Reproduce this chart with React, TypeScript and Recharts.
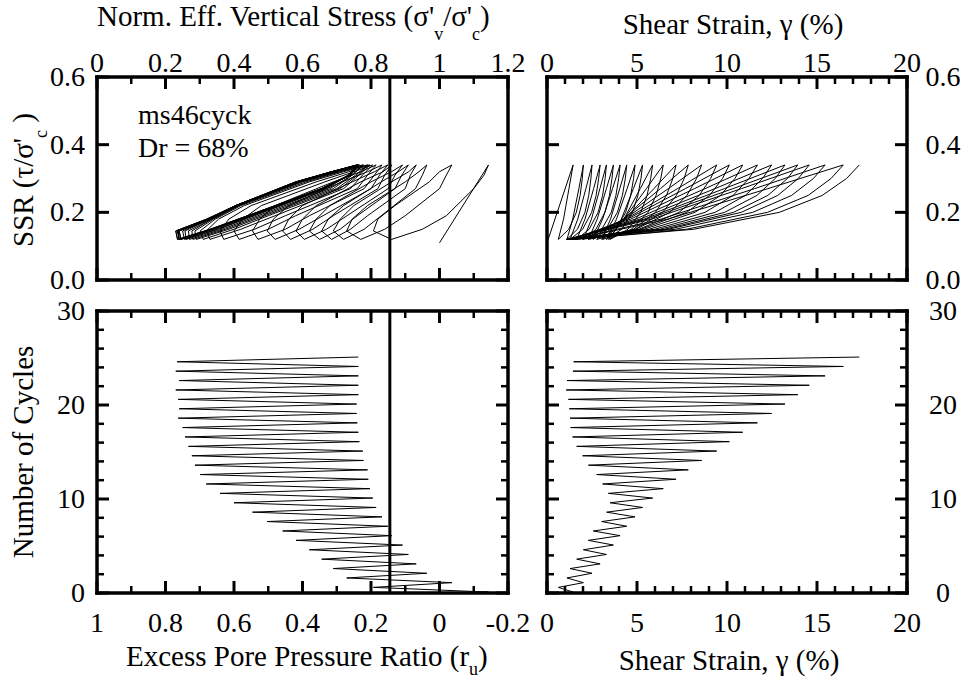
import { ReferenceLine, Scatter, ScatterChart, XAxis, YAxis } from "recharts";

const FONT = '"Liberation Serif", "Times New Roman", serif';

// half-cycle counters (peak of SSR, then trough of SSR)
const peakCycle = [0.1, 1.1, 2.1, 3.1, 4.1, 5.1, 6.1, 7.1, 8.1, 9.1, 10.1, 11.1, 12.1, 13.1, 14.1, 15.1, 16.1, 17.1, 18.1, 19.1, 20.1, 21.1, 22.1, 23.1, 24.1, 25.1];
const troughCycle = [0.6, 1.6, 2.6, 3.6, 4.6, 5.6, 6.6, 7.6, 8.6, 9.6, 10.6, 11.6, 12.6, 13.6, 14.6, 15.6, 16.6, 17.6, 18.6, 19.6, 20.6, 21.6, 22.6, 23.6, 24.6];

// excess pore pressure ratio at SSR peaks / troughs
const peakRu = [-0.143, -0.036, 0.037, 0.068, 0.091, 0.108, 0.139, 0.151, 0.168, 0.185, 0.195, 0.203, 0.208, 0.21, 0.222, 0.224, 0.234, 0.237, 0.24, 0.242, 0.242, 0.237, 0.237, 0.237, 0.237, 0.237];
const troughRu = [0.193, 0.271, 0.31, 0.344, 0.38, 0.419, 0.458, 0.503, 0.546, 0.6, 0.641, 0.681, 0.699, 0.714, 0.723, 0.733, 0.743, 0.75, 0.763, 0.76, 0.763, 0.77, 0.76, 0.77, 0.766];

// shear strain (%) at SSR peaks / troughs
const peakStrain = [1.45, 2.02, 2.5, 2.95, 3.3, 3.69, 4.06, 4.43, 4.89, 5.31, 5.87, 6.46, 7.17, 7.85, 8.59, 9.43, 10.13, 10.87, 11.69, 12.48, 13.22, 13.93, 14.57, 15.45, 16.46, 17.35];
const troughStrain = [0.63, 1.11, 1.28, 1.65, 2.02, 2.3, 2.57, 3.04, 3.31, 3.5, 3.41, 3.09, 2.76, 2.3, 1.98, 1.65, 1.42, 1.31, 1.28, 1.24, 1.19, 1.07, 1.11, 1.44, 1.48];

// stress path: normalised vertical stress along each loop (unloading, then reloading)
const tlUnload31 = [1.13, 1.02, 0.95, 0.915, 0.89, 0.87, 0.84, 0.825, 0.81, 0.79, 0.775, 0.765, 0.76, 0.755, 0.745, 0.745, 0.735, 0.735, 0.735, 0.735, 0.735, 0.74, 0.74, 0.74, 0.74];
const tlUnload27 = [1.1, 1.0, 0.93, 0.9, 0.87, 0.85, 0.82, 0.8, 0.78, 0.76, 0.74, 0.72, 0.71, 0.7, 0.69, 0.68, 0.67, 0.665, 0.66, 0.66, 0.655, 0.655, 0.66, 0.655, 0.655];
const tlUnload19 = [1.02, 0.9, 0.83, 0.79, 0.76, 0.73, 0.69, 0.66, 0.62, 0.58, 0.55, 0.52, 0.5, 0.49, 0.48, 0.47, 0.46, 0.455, 0.45, 0.45, 0.445, 0.44, 0.445, 0.44, 0.44];
const tlUnload15 = [0.95, 0.84, 0.78, 0.74, 0.71, 0.67, 0.63, 0.59, 0.55, 0.5, 0.46, 0.42, 0.4, 0.385, 0.375, 0.365, 0.355, 0.35, 0.34, 0.34, 0.335, 0.33, 0.34, 0.33, 0.335];
const tlBottom = [0.86, 0.77, 0.72, 0.685, 0.65, 0.605, 0.565, 0.52, 0.47, 0.415, 0.37, 0.33, 0.31, 0.29, 0.28, 0.27, 0.26, 0.255, 0.24, 0.245, 0.24, 0.235, 0.245, 0.235, 0.24];
const tlLoad18 = [0.82, 0.745, 0.71, 0.675, 0.64, 0.6, 0.56, 0.515, 0.475, 0.425, 0.385, 0.355, 0.345, 0.34, 0.335, 0.335, 0.33, 0.33, 0.325, 0.33, 0.325, 0.32, 0.33, 0.32, 0.325];
const tlLoad22 = [0.87, 0.79, 0.75, 0.72, 0.68, 0.64, 0.6, 0.56, 0.52, 0.48, 0.45, 0.43, 0.42, 0.415, 0.41, 0.41, 0.41, 0.41, 0.405, 0.41, 0.405, 0.405, 0.41, 0.405, 0.405];
const tlLoad29 = [0.97, 0.9, 0.86, 0.83, 0.8, 0.77, 0.745, 0.715, 0.69, 0.665, 0.64, 0.62, 0.61, 0.6, 0.595, 0.59, 0.59, 0.585, 0.585, 0.585, 0.585, 0.58, 0.585, 0.58, 0.58];
const tlLoad32 = [1.0, 0.94, 0.91, 0.88, 0.86, 0.835, 0.81, 0.79, 0.77, 0.75, 0.735, 0.72, 0.71, 0.705, 0.7, 0.695, 0.69, 0.69, 0.685, 0.685, 0.685, 0.685, 0.685, 0.685, 0.685];

// stress-strain loops: strain along each loop (unloading, then reloading)
const trUnload27 = [1.22, 1.77, 2.16, 2.59, 2.94, 3.3, 3.64, 4.04, 4.45, 4.8, 5.18, 5.52, 5.94, 6.3, 6.74, 7.25, 7.69, 8.19, 8.78, 9.33, 9.85, 10.33, 10.8, 11.53, 12.27];
const trUnload18 = [0.92, 1.43, 1.71, 2.11, 2.47, 2.79, 3.09, 3.53, 3.86, 4.13, 4.27, 4.27, 4.3, 4.24, 4.29, 4.37, 4.47, 4.65, 4.92, 5.17, 5.4, 5.57, 5.82, 6.34, 6.72];
const trLoad15 = [1.21, 1.69, 1.98, 2.34, 2.72, 3.04, 3.35, 3.82, 4.15, 4.5, 4.69, 4.8, 4.9, 4.94, 5.11, 5.21, 5.39, 5.67, 5.98, 6.27, 6.54, 6.74, 7.13, 7.75, 8.15];
const trLoad20 = [1.63, 2.11, 2.48, 2.84, 3.22, 3.57, 3.91, 4.37, 4.75, 5.21, 5.61, 6.03, 6.42, 6.83, 7.34, 7.76, 8.22, 8.78, 9.34, 9.87, 10.36, 10.79, 11.43, 12.25, 12.91];
const trLoad25 = [1.84, 2.32, 2.73, 3.09, 3.47, 3.83, 4.19, 4.65, 5.05, 5.56, 6.06, 6.64, 7.19, 7.77, 8.46, 9.03, 9.64, 10.34, 11.02, 11.66, 12.27, 12.82, 13.59, 14.51, 15.29];
const trLoad30 = [1.96, 2.44, 2.87, 3.23, 3.61, 3.98, 4.35, 4.81, 5.22, 5.76, 6.32, 6.99, 7.62, 8.31, 9.09, 9.75, 10.44, 11.22, 11.98, 12.68, 13.36, 13.96, 14.8, 15.78, 16.64];

const startRu = 0;
const startCycle = 0;
const startStrain = 0;
const startSsr = 0.11;
const ssrPeak = 0.34;
const ssrTrough = 0.12;
const ssrTurn = 0.145;
const markerStress = 0.855;

// ticks
const stressTicks = [0, 0.1, 0.2, 0.3, 0.4, 0.5, 0.6, 0.7, 0.8, 0.9, 1, 1.1, 1.2];
const stressMajor = [0, 0.2, 0.4, 0.6, 0.8, 1, 1.2];
const ruTicks = [-0.2, -0.1, 0, 0.1, 0.2, 0.3, 0.4, 0.5, 0.6, 0.7, 0.8, 0.9, 1];
const ruMajor = [-0.2, 0, 0.2, 0.4, 0.6, 0.8, 1];
const ssrTicks = [0, 0.2, 0.4, 0.6];
const cycleTicks = [0, 2, 4, 6, 8, 10, 12, 14, 16, 18, 20, 22, 24, 26, 28, 30];
const cycleMajor = [0, 10, 20, 30];
const strainTicks = [0, 1, 2, 3, 4, 5, 6, 7, 8, 9, 10, 11, 12, 13, 14, 15, 16, 17, 18, 19, 20];
const strainMajor = [0, 5, 10, 15, 20];

type Pt = { x: number; y: number };

const ruPath: Pt[] = [{ x: startRu, y: startCycle }];
const strainCyclePath: Pt[] = [{ x: startStrain, y: startCycle }];
const stressPath: Pt[] = [{ x: 1 - startRu, y: startSsr }];
const strainSsrPath: Pt[] = [{ x: startStrain, y: startSsr }];

peakRu.forEach((ru, k) => {
  ruPath.push({ x: ru, y: peakCycle[k] });
  strainCyclePath.push({ x: peakStrain[k], y: peakCycle[k] });
  stressPath.push({ x: 1 - ru, y: ssrPeak });
  strainSsrPath.push({ x: peakStrain[k], y: ssrPeak });
  if (k < troughRu.length) {
    ruPath.push({ x: troughRu[k], y: troughCycle[k] });
    strainCyclePath.push({ x: troughStrain[k], y: troughCycle[k] });
    stressPath.push(
      { x: tlUnload31[k], y: 0.31 },
      { x: tlUnload27[k], y: 0.27 },
      { x: tlUnload19[k], y: 0.19 },
      { x: tlUnload15[k], y: 0.15 },
      { x: tlBottom[k], y: ssrTrough },
      { x: 1 - troughRu[k], y: ssrTurn },
      { x: tlLoad18[k], y: 0.18 },
      { x: tlLoad22[k], y: 0.22 },
      { x: tlLoad29[k], y: 0.29 },
      { x: tlLoad32[k], y: 0.32 },
    );
    strainSsrPath.push(
      { x: trUnload27[k], y: 0.27 },
      { x: trUnload18[k], y: 0.18 },
      { x: troughStrain[k], y: ssrTrough },
      { x: trLoad15[k], y: 0.15 },
      { x: trLoad20[k], y: 0.2 },
      { x: trLoad25[k], y: 0.25 },
      { x: trLoad30[k], y: 0.3 },
    );
  }
});

type Side = "top" | "bottom" | "left" | "right";

const TICK_FS = 28;
const TITLE_FS = 29;
const SUB_FS = 18;

function axisTick(side: Side, major: number[], labelled: boolean, format: (v: number) => string) {
  return (props: any) => {
    const { x, y, payload } = props;
    const v: number = payload.value;
    const isMajor = major.some((m) => Math.abs(m - v) < 1e-6);
    const len = isMajor ? 12 : 7;
    const dx = side === "left" ? len : side === "right" ? -len : 0;
    const dy = side === "top" ? len : side === "bottom" ? -len : 0;
    let label = null;
    if (labelled && isMajor) {
      const pos =
        side === "top"
          ? { x, y: y - 5, a: "middle" }
          : side === "bottom"
            ? { x, y: y + 39, a: "middle" }
            : side === "left"
              ? { x: x - 12, y: y + 9, a: "end" }
              : { x: x + 36, y: y + 9, a: "middle" };
      label = (
        <text x={pos.x} y={pos.y} textAnchor={pos.a as any} fontFamily={FONT} fontSize={TICK_FS} fill="#000">
          {format(v)}
        </text>
      );
    }
    return (
      <g>
        <line x1={x} y1={y} x2={x + dx} y2={y + dy} stroke="#000" strokeWidth={isMajor ? 3 : 2.5} />
        {label}
      </g>
    );
  };
}

type PanelProps = {
  box: { left: number; top: number; right: number; bottom: number };
  xDomain: [number, number];
  yDomain: [number, number];
  xTicks: number[];
  xMajor: number[];
  yTicks: number[];
  yMajor: number[];
  xLabelSide: "top" | "bottom";
  yLabelSide: "left" | "right";
  xFormat: (v: number) => string;
  yFormat: (v: number) => string;
  reversed?: boolean;
  path: Pt[];
  marker?: number;
};

const W = 965;
const H = 682;
const frame = { stroke: "#000", strokeWidth: 3.5, strokeLinecap: "square" as const };

function Panel(p: PanelProps) {
  return (
    <ScatterChart
      width={W}
      height={H}
      margin={{ top: 0, right: 0, bottom: 0, left: 0 }}
      style={{ position: "absolute", left: 0, top: 0 }}
    >
      <XAxis
        xAxisId="b"
        orientation="bottom"
        type="number"
        dataKey="x"
        domain={p.xDomain}
        reversed={p.reversed}
        ticks={p.xTicks}
        interval={0}
        height={H - p.box.bottom}
        tickSize={0}
        tickMargin={0}
        tickLine={false}
        axisLine={frame}
        tick={axisTick("bottom", p.xMajor, p.xLabelSide === "bottom", p.xFormat)}
      />
      <XAxis
        xAxisId="t"
        orientation="top"
        type="number"
        dataKey="x"
        domain={p.xDomain}
        reversed={p.reversed}
        ticks={p.xTicks}
        interval={0}
        height={p.box.top}
        tickSize={0}
        tickMargin={0}
        tickLine={false}
        axisLine={frame}
        tick={axisTick("top", p.xMajor, p.xLabelSide === "top", p.xFormat)}
      />
      <YAxis
        yAxisId="l"
        orientation="left"
        type="number"
        dataKey="y"
        domain={p.yDomain}
        ticks={p.yTicks}
        interval={0}
        width={p.box.left}
        tickSize={0}
        tickMargin={0}
        tickLine={false}
        axisLine={frame}
        tick={axisTick("left", p.yMajor, p.yLabelSide === "left", p.yFormat)}
      />
      <YAxis
        yAxisId="r"
        orientation="right"
        type="number"
        dataKey="y"
        domain={p.yDomain}
        ticks={p.yTicks}
        interval={0}
        width={W - p.box.right}
        tickSize={0}
        tickMargin={0}
        tickLine={false}
        axisLine={frame}
        tick={axisTick("right", p.yMajor, p.yLabelSide === "right", p.yFormat)}
      />
      <Scatter xAxisId="t" yAxisId="r" data={p.path} fill="none" shape={() => <g />} isAnimationActive={false} />
      <Scatter
        xAxisId="b"
        yAxisId="l"
        data={p.path}
        fill="#000"
        line={{ stroke: "#000", strokeWidth: 1 }}
        lineType="joint"
        shape={() => <g />}
        isAnimationActive={false}
      />
      {p.marker !== undefined && (
        <ReferenceLine x={p.marker} xAxisId="b" yAxisId="l" stroke="#000" strokeWidth={3} />
      )}
    </ScatterChart>
  );
}

const plain = (v: number) => String(v);
const oneDecimal = (v: number) => v.toFixed(1);

export default function App() {
  return (
    <div style={{ position: "absolute", left: 0, top: 0, width: W, height: H, background: "#fff", overflow: "hidden" }}>
      <Panel
        box={{ left: 97, top: 77, right: 508, bottom: 280 }}
        xDomain={[0, 1.2]}
        yDomain={[0, 0.6]}
        xTicks={stressTicks}
        xMajor={stressMajor}
        yTicks={ssrTicks}
        yMajor={ssrTicks}
        xLabelSide="top"
        yLabelSide="left"
        xFormat={plain}
        yFormat={oneDecimal}
        path={stressPath}
        marker={markerStress}
      />
      <Panel
        box={{ left: 97, top: 311, right: 508, bottom: 593 }}
        xDomain={[-0.2, 1]}
        yDomain={[0, 30]}
        reversed
        xTicks={ruTicks}
        xMajor={ruMajor}
        yTicks={cycleTicks}
        yMajor={cycleMajor}
        xLabelSide="bottom"
        yLabelSide="left"
        xFormat={plain}
        yFormat={plain}
        path={ruPath}
        marker={1 - markerStress}
      />
      <Panel
        box={{ left: 547, top: 77, right: 907, bottom: 280 }}
        xDomain={[0, 20]}
        yDomain={[0, 0.6]}
        xTicks={strainTicks}
        xMajor={strainMajor}
        yTicks={ssrTicks}
        yMajor={ssrTicks}
        xLabelSide="top"
        yLabelSide="right"
        xFormat={plain}
        yFormat={oneDecimal}
        path={strainSsrPath}
      />
      <Panel
        box={{ left: 547, top: 311, right: 907, bottom: 593 }}
        xDomain={[0, 20]}
        yDomain={[0, 30]}
        xTicks={strainTicks}
        xMajor={strainMajor}
        yTicks={cycleTicks}
        yMajor={cycleMajor}
        xLabelSide="bottom"
        yLabelSide="right"
        xFormat={plain}
        yFormat={plain}
        path={strainCyclePath}
      />
      <svg width={W} height={H} style={{ position: "absolute", left: 0, top: 0, pointerEvents: "none" }}>
        <g fontFamily={FONT} fontSize={TITLE_FS} fill="#000">
          <text x={97} y={26}>
            Norm. Eff. Vertical Stress (σ'
            <tspan dy={14} fontSize={SUB_FS}>v</tspan>
            <tspan dy={-14}>/σ'</tspan>
            <tspan dy={14} fontSize={SUB_FS}>c</tspan>
            <tspan dy={-14}>)</tspan>
          </text>
          <text x={733} y={34} textAnchor="middle">Shear Strain, γ (%)</text>
          <text x={126} y={666}>
            Excess Pore Pressure Ratio (r
            <tspan dy={9} fontSize={SUB_FS}>u</tspan>
            <tspan dy={-9}>)</tspan>
          </text>
          <text x={729} y={670} textAnchor="middle">Shear Strain, γ (%)</text>
          <text transform="translate(33,180) rotate(-90)" textAnchor="middle">
            SSR (τ/σ'
            <tspan dy={14} fontSize={SUB_FS}>c</tspan>
            <tspan dy={-14}> )</tspan>
          </text>
          <text transform="translate(33,452) rotate(-90)" textAnchor="middle">Number of Cycles</text>
        </g>
        <g fontFamily={FONT} fontSize={TICK_FS} fill="#000">
          <text x={138} y={124}>ms46cyck</text>
          <text x={138} y={157}>Dr = 68%</text>
        </g>
      </svg>
    </div>
  );
}
